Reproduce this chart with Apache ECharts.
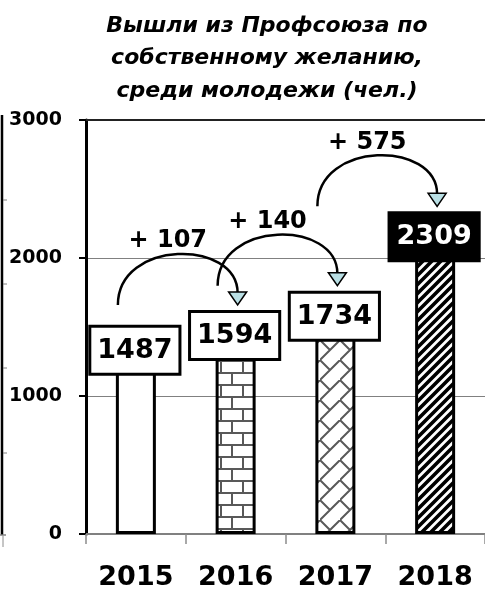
<!DOCTYPE html>
<html>
<head>
<meta charset="utf-8">
<script src="https://cdn.jsdelivr.net/npm/echarts@6/dist/echarts.min.js"></script>
<style>
  html, body { margin: 0; padding: 0; background: #fff; }
  #chart { width: 485px; height: 591px; }
</style>
</head>
<body>
<div id="chart"></div>
<script>
// Young members who left the trade union voluntarily, by year
const categories = ['2015', '2016', '2017', '2018'];
const members = [1487, 1594, 1734, 2309];
const yMin = 0;
const yMax = 3000;
const yStep = 1000;
const titleLines = ['Вышли из Профсоюза по', 'собственному желанию,', 'среди молодежи (чел.)'];

const FONT = '"DejaVu Sans", Arial, sans-serif';

// ---- hatch fills for the bars ----
function tile(w, h, draw) {
  const c = document.createElement('canvas');
  c.width = w; c.height = h;
  const g = c.getContext('2d');
  g.fillStyle = '#fff';
  g.fillRect(0, 0, w, h);
  draw(g, w, h);
  return { image: c, repeat: 'repeat' };
}

const plainFill = '#ffffff';

const brickFill = tile(22, 24, (g, w, h) => {
  g.strokeStyle = '#595959';
  g.lineWidth = 2;
  g.beginPath();
  g.moveTo(0, 1); g.lineTo(w, 1);
  g.moveTo(0, 13); g.lineTo(w, 13);
  g.moveTo(1, 0); g.lineTo(1, 13);
  g.moveTo(12, 13); g.lineTo(12, 24);
  g.stroke();
});

const weaveFill = tile(20, 20, (g, w, h) => {
  g.strokeStyle = '#595959';
  g.lineWidth = 2;
  g.beginPath();
  g.moveTo(0, h); g.lineTo(w, 0);
  g.moveTo(0, 0); g.lineTo(w / 2, h / 2);
  g.stroke();
});

const stripeFill = tile(9, 9, (g, w, h) => {
  g.strokeStyle = '#000';
  g.lineWidth = 3.6;
  g.beginPath();
  g.moveTo(-2, h + 2); g.lineTo(w + 2, -2);
  g.moveTo(-w / 2 - 2, h / 2 + 2); g.lineTo(w / 2 + 2, -h / 2 - 2);
  g.moveTo(w / 2 - 2, h * 1.5 + 2); g.lineTo(w * 1.5 + 2, h / 2 - 2);
  g.stroke();
});

const fills = [plainFill, brickFill, weaveFill, stripeFill];

const barData = members.map((v, i) => {
  const item = { value: v, itemStyle: { color: fills[i] } };
  if (i === members.length - 1) {
    item.label = { color: '#fff', backgroundColor: '#000' };
  }
  return item;
});

// year-over-year growth arrows: [fromIndex, fromValue, toValue, delta]
const growth = members.slice(1).map((v, i) => [i, members[i], v, v - members[i]]);

function renderGrowth(params, api) {
  const i = api.value(0);
  const from = api.coord([i, api.value(1)]);
  const to = api.coord([i + 1, api.value(2)]);
  const tipX = to[0] + 2;
  const tipY = to[1] - 9;
  const startX = from[0] - 18;
  const lift = 66;
  const midX = (startX + tipX) / 2;
  return {
    type: 'group',
    children: [
      {
        type: 'bezierCurve',
        shape: {
          x1: startX, y1: tipY,
          cpx1: startX, cpy1: tipY - lift,
          cpx2: tipX, cpy2: tipY - lift,
          x2: tipX, y2: tipY - 12
        },
        style: { fill: null, stroke: '#000', lineWidth: 2.5 }
      },
      {
        type: 'polygon',
        shape: { points: [[tipX - 9, tipY - 13], [tipX + 9, tipY - 13], [tipX, tipY]] },
        style: { fill: '#b9dfe4', stroke: '#000', lineWidth: 1.5 }
      },
      {
        type: 'text',
        style: {
          x: midX - 10,
          y: tipY - 64,
          text: '+ ' + api.value(3),
          align: 'center',
          verticalAlign: 'middle',
          font: 'bold 24px ' + FONT,
          fill: '#000'
        }
      }
    ]
  };
}

const chart = echarts.init(document.getElementById('chart'), null, { renderer: 'canvas' });

chart.setOption({
  animation: false,
  backgroundColor: '#fff',
  grid: { left: 86, top: 120, width: 408, height: 414, containLabel: false },
  xAxis: {
    type: 'category',
    data: categories,
    axisLine: { lineStyle: { color: '#808080', width: 2 } },
    axisTick: { show: true, length: 10, lineStyle: { color: '#8c8c8c', width: 1.5 } },
    axisLabel: {
      margin: 30,
      fontFamily: FONT,
      fontWeight: 'bold',
      fontSize: 27,
      color: '#000'
    }
  },
  yAxis: {
    type: 'value',
    min: yMin,
    max: yMax,
    interval: yStep,
    axisLine: { show: true, lineStyle: { color: '#000', width: 3 } },
    axisTick: { show: true, length: 7, lineStyle: { color: '#000', width: 2 } },
    axisLabel: {
      margin: 24,
      formatter: (v) => String(v),
      fontFamily: FONT,
      fontWeight: 'bold',
      fontSize: 19,
      color: '#000'
    },
    splitLine: { show: true, lineStyle: { color: '#808080', width: 1 } }
  },
  series: [
    {
      type: 'bar',
      data: barData,
      barWidth: 40,
      itemStyle: { borderColor: '#000', borderWidth: 3 },
      label: {
        show: true,
        position: 'insideTop',
        distance: 0,
        offset: [-1, -1],
        fontFamily: FONT,
        fontWeight: 'bold',
        fontSize: 27,
        lineHeight: 32,
        color: '#000',
        backgroundColor: '#fff',
        borderColor: '#000',
        borderWidth: 3,
        padding: [7, 6, 6, 6]
      },
      markLine: {
        silent: true,
        symbol: 'none',
        label: { show: false },
        lineStyle: { color: '#222', width: 2, type: 'solid' },
        data: [{ yAxis: yMax }]
      },
      z: 2
    },
    {
      type: 'custom',
      data: growth,
      renderItem: renderGrowth,
      silent: true,
      z: 5
    }
  ],
  graphic: [
    {
      type: 'text',
      silent: true,
      x: 267,
      y: 10,
      style: {
        text: titleLines.join('\n'),
        align: 'center',
        verticalAlign: 'top',
        font: 'italic bold 22px ' + FONT,
        lineHeight: 32.5,
        fill: '#000'
      }
    },
    {
      type: 'group',
      silent: true,
      children: [
        { type: 'line', shape: { x1: 2, y1: 115, x2: 2, y2: 535 }, style: { stroke: '#000', lineWidth: 2.5 } },
        { type: 'line', shape: { x1: 3, y1: 200, x2: 7, y2: 200 }, style: { stroke: '#808080', lineWidth: 1 } },
        { type: 'line', shape: { x1: 3, y1: 284, x2: 7, y2: 284 }, style: { stroke: '#808080', lineWidth: 1 } },
        { type: 'line', shape: { x1: 3, y1: 368, x2: 7, y2: 368 }, style: { stroke: '#808080', lineWidth: 1 } },
        { type: 'line', shape: { x1: 3, y1: 453, x2: 7, y2: 453 }, style: { stroke: '#808080', lineWidth: 1 } },
        { type: 'line', shape: { x1: 0, y1: 535, x2: 6, y2: 535 }, style: { stroke: '#808080', lineWidth: 1.5 } },
        { type: 'line', shape: { x1: 3, y1: 536, x2: 3, y2: 547 }, style: { stroke: '#8c8c8c', lineWidth: 1 } }
      ]
    }
  ]
});
</script>
</body>
</html>
